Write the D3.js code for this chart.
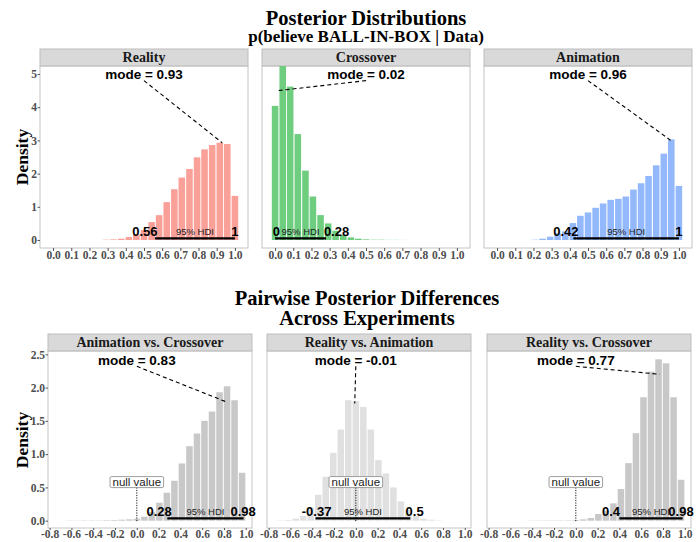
<!DOCTYPE html>
<html>
<head>
<meta charset="utf-8">
<script src="https://cdn.jsdelivr.net/npm/d3@7"></script>
<style>
body { margin: 0; background: #fff; }
</style>
</head>
<body>
<div id="chart"></div>
<script>
// ---- data ----

// bin centres, top row (bin width 1/24) and bottom row (bin width 0.069)
const topBins = [0, 0.042, 0.083, 0.125, 0.167, 0.208, 0.25, 0.292, 0.333, 0.375, 0.417, 0.458, 0.5,
    0.542, 0.583, 0.625, 0.667, 0.708, 0.75, 0.792, 0.833, 0.875, 0.917, 0.958, 1.0];
const bottomBins = [-0.69, -0.621, -0.552, -0.483, -0.414, -0.345, -0.276, -0.207, -0.138, -0.069, 0,
    0.069, 0.138, 0.207, 0.276, 0.345, 0.414, 0.483, 0.552, 0.621, 0.69, 0.759, 0.828, 0.897, 0.966, 1.035];

const topNames = ["Reality", "Crossover", "Animation"];
const realityDens = [0, 0, 0, 0, 0, 0, 0, 0.01, 0.02, 0.04, 0.09, 0.17, 0.30, 0.54, 0.75, 1.14, 1.53, 1.88,
    2.14, 2.49, 2.73, 2.86, 2.93, 2.89, 1.33];
const crossoverDens = [4.04, 5.8, 4.62, 3.19, 2.09, 1.31, 0.75, 0.50, 0.28, 0.15, 0.08, 0.04, 0.02, 0.01,
    0.01, 0.005, 0.005, 0.003, 0, 0, 0, 0, 0, 0, 0];
const animationDens = [0, 0, 0, 0, 0, 0.01, 0.04, 0.10, 0.20, 0.26, 0.51, 0.73, 0.83, 0.97, 1.10, 1.21, 1.24,
    1.31, 1.52, 1.71, 1.93, 2.25, 2.60, 3.03, 1.63];
const topModes = [0.93, 0.02, 0.96];
const topModeDens = [2.93, 4.5, 2.98];
const topHdiLow = [0.56, 0, 0.42];
const topHdiHigh = [1, 0.28, 1];

const bottomNames = ["Animation vs. Crossover", "Reality vs. Animation", "Reality vs. Crossover"];
const animCrossDens = [0, 0.003, 0.003, 0.005, 0.005, 0.005, 0.008, 0.01, 0.015, 0.02, 0.03, 0.06, 0.13,
    0.27, 0.42, 0.60, 0.86, 1.12, 1.31, 1.50, 1.64, 1.93, 2.02, 1.81, 0.72, 0];
const realAnimDens = [0.005, 0.01, 0.03, 0.07, 0.20, 0.39, 0.66, 1.02, 1.37, 1.81, 1.80, 1.71, 1.37, 0.91,
    0.71, 0.50, 0.29, 0.16, 0.07, 0.03, 0.015, 0.005, 0, 0, 0, 0];
const realCrossDens = [0, 0, 0, 0, 0.003, 0.004, 0.005, 0.005, 0.005, 0.006, 0.01, 0.02, 0.04, 0.10, 0.15,
    0.26, 0.475, 0.865, 1.315, 1.855, 2.24, 2.425, 2.365, 1.855, 0.615, 0];
const bottomModes = [0.83, -0.01, 0.77];
const bottomModeDens = [1.78, 1.76, 2.2];
const bottomHdiLow = [0.28, -0.37, 0.4];
const bottomHdiHigh = [0.98, 0.5, 0.98];

const topXTicks = [0, 0.1, 0.2, 0.3, 0.4, 0.5, 0.6, 0.7, 0.8, 0.9, 1.0];
const topYTicks = [0, 1, 2, 3, 4, 5];
const bottomXTicks = [-0.8, -0.6, -0.4, -0.2, 0, 0.2, 0.4, 0.6, 0.8, 1.0];
const bottomYTicks = [0, 0.5, 1, 1.5, 2, 2.5];

// ---- layout ----
const W = 697, H = 542;
const serif = "'Liberation Serif', 'Times New Roman', serif";
const sans = "'Liberation Sans', Arial, sans-serif";

const rows = [
    {
        names: topNames, dens: [realityDens, crossoverDens, animationDens], bins: topBins, bw: 1 / 24,
        colors: ["#f9a099", "#6fcd80", "#93b9fc"],
        modes: topModes, modeDens: topModeDens, hdiLow: topHdiLow, hdiHigh: topHdiHigh,
        lefts: [40, 262, 484], width: 208, stripTop: 49, top: 66, bottom: 248,
        xDomain: [-0.072, 1.072], yDomain: [-0.24, 5.24],
        xTicks: topXTicks, yTicks: topYTicks, yFormat: d => d.toFixed(0),
        modeText: [0.5, 5.0], modeStart: [0.5, 4.8],
        lowLabelX: [0.505, 0.007, 0.378], highLabelX: [1.0, 0.338, 1.0],
        hdiLift: 1.7, nullValue: false, ylabelY: 157
    },
    {
        names: bottomNames, dens: [animCrossDens, realAnimDens, realCrossDens], bins: bottomBins, bw: 0.069,
        colors: ["#c8c8c8", "#e0e0e0", "#c8c8c8"],
        modes: bottomModes, modeDens: bottomModeDens, hdiLow: bottomHdiLow, hdiHigh: bottomHdiHigh,
        lefts: [48, 267, 487], width: 204, stripTop: 334, top: 351, bottom: 528,
        xDomain: [-0.815, 1.057], yDomain: [-0.11, 2.55],
        xTicks: bottomXTicks, yTicks: bottomYTicks, yFormat: d => d.toFixed(1),
        modeText: [0, 2.41], modeStart: [0, 2.32],
        lowLabelX: [0.205, -0.36, 0.323], highLabelX: [0.975, 0.54, 0.965],
        hdiLift: 2.3, nullValue: true, ylabelY: 440
    }
];

const svg = d3.select("#chart").append("svg")
    .attr("width", W)
    .attr("height", H)
    .style("background", "#fff");

// titles
svg.append("text").attr("x", 366).attr("y", 25).attr("text-anchor", "middle")
    .style("font-family", serif).style("font-weight", "bold").style("font-size", "20.5px")
    .text("Posterior Distributions");
svg.append("text").attr("x", 366).attr("y", 42).attr("text-anchor", "middle")
    .style("font-family", serif).style("font-weight", "bold").style("font-size", "17px")
    .text("p(believe BALL-IN-BOX | Data)");
svg.append("text").attr("x", 367).attr("y", 305).attr("text-anchor", "middle")
    .style("font-family", serif).style("font-weight", "bold").style("font-size", "20.5px")
    .text("Pairwise Posterior Differences");
svg.append("text").attr("x", 367).attr("y", 325).attr("text-anchor", "middle")
    .style("font-family", serif).style("font-weight", "bold").style("font-size", "20.5px")
    .text("Across Experiments");

rows.forEach(function (row, r) {

    // y axis title
    svg.append("text")
        .attr("transform", "translate(28," + row.ylabelY + ") rotate(-90)")
        .attr("text-anchor", "middle")
        .style("font-family", serif).style("font-weight", "bold").style("font-size", "17.5px")
        .text("Density");

    row.names.forEach(function (name, i) {
        let left = row.lefts[i];
        let x = d3.scaleLinear().domain(row.xDomain).range([left, left + row.width]);
        let y = d3.scaleLinear().domain(row.yDomain).range([row.bottom, row.top]);
        let g = svg.append("g");

        // strip
        g.append("rect")
            .attr("x", left).attr("y", row.stripTop)
            .attr("width", row.width).attr("height", row.top - row.stripTop)
            .attr("fill", "#d9d9d9").attr("stroke", "#bdbdbd").attr("stroke-width", 1);
        g.append("text")
            .attr("x", left + row.width / 2).attr("y", row.top - 4.5)
            .attr("text-anchor", "middle")
            .style("font-family", serif).style("font-weight", "bold").style("font-size", "14px")
            .style("fill", "#1a1a1a")
            .text(name);

        // clip (bars only)
        let clipId = "clip" + r + "_" + i;
        svg.append("clipPath").attr("id", clipId)
            .append("rect")
            .attr("x", left).attr("y", row.top)
            .attr("width", row.width).attr("height", row.bottom - row.top);

        let body = g.append("g").attr("clip-path", "url(#" + clipId + ")");
        let notes = g.append("g");

        // histogram bars
        let bars = row.bins.map((c, k) => ({c: c, d: row.dens[i][k]})).filter(b => b.d > 0);
        body.selectAll("rect.bar")
            .data(bars)
            .enter().append("rect")
            .attr("class", "bar")
            .attr("x", b => x(b.c - row.bw / 2) + 0.5)
            .attr("width", b => x(b.c + row.bw / 2) - x(b.c - row.bw / 2) - 1)
            .attr("y", b => y(b.d))
            .attr("height", b => y(0) - y(b.d))
            .attr("fill", row.colors[i]);

        // null value marker
        if (row.nullValue) {
            notes.append("line")
                .attr("x1", x(0)).attr("x2", x(0))
                .attr("y1", y(0.5)).attr("y2", y(0) + 1.5)
                .attr("stroke", "#000").attr("stroke-width", 0.9)
                .attr("stroke-dasharray", "1.2,1.3");
            let box = notes.append("rect");
            let nt = notes.append("text")
                .attr("x", x(0)).attr("y", y(0.58) + 4)
                .attr("text-anchor", "middle")
                .style("font-family", sans).style("font-size", "11.5px").style("fill", "#222")
                .text("null value");
            let tw = nt.node().getComputedTextLength();
            box.attr("x", x(0) - tw / 2 - 2.5).attr("y", y(0.58) - 5.5)
                .attr("width", tw + 5).attr("height", 11)
                .attr("rx", 1.5)
                .attr("fill", "#fff").attr("stroke", "#777").attr("stroke-width", 0.7);
        }

        // mode annotation
        notes.append("line")
            .attr("x1", x(row.modeStart[0])).attr("y1", y(row.modeStart[1]))
            .attr("x2", x(row.modes[i])).attr("y2", y(row.modeDens[i]))
            .attr("stroke", "#000").attr("stroke-width", 1.1)
            .attr("stroke-dasharray", "4,3");
        notes.append("text")
            .attr("x", x(row.modeText[0])).attr("y", y(row.modeText[1]) + 5)
            .attr("text-anchor", "middle")
            .style("font-family", sans).style("font-weight", "bold").style("font-size", "13.5px")
            .text("mode = " + row.modes[i]);

        // HDI
        let hy = y(0) - row.hdiLift;
        notes.append("line")
            .attr("x1", x(row.hdiLow[i])).attr("x2", x(row.hdiHigh[i]))
            .attr("y1", hy).attr("y2", hy)
            .attr("stroke", "#000").attr("stroke-width", 2.2);
        notes.append("text")
            .attr("x", x((row.hdiLow[i] + row.hdiHigh[i]) / 2)).attr("y", hy - 3)
            .attr("text-anchor", "middle")
            .style("font-family", sans).style("font-size", "9.5px").style("fill", "#222")
            .text("95% HDI");
        notes.append("text")
            .attr("x", x(row.lowLabelX[i])).attr("y", hy - 2)
            .attr("text-anchor", "middle")
            .style("font-family", sans).style("font-weight", "bold").style("font-size", "13px")
            .text(String(row.hdiLow[i]));
        notes.append("text")
            .attr("x", x(row.highLabelX[i])).attr("y", hy - 2)
            .attr("text-anchor", "middle")
            .style("font-family", sans).style("font-weight", "bold").style("font-size", "13px")
            .text(String(row.hdiHigh[i]));

        // panel border
        g.insert("rect", "g")
            .attr("x", left).attr("y", row.top)
            .attr("width", row.width).attr("height", row.bottom - row.top)
            .attr("fill", "none").attr("stroke", "#c4c4c4").attr("stroke-width", 1);

        // x axis
        let xAxis = g.append("g")
            .attr("transform", "translate(0," + row.bottom + ")")
            .call(d3.axisBottom(x).tickValues(row.xTicks).tickSize(r === 0 ? 3 : 2).tickPadding(0)
                .tickFormat(d => d.toFixed(1)));
        xAxis.select(".domain").remove();
        xAxis.selectAll("line").attr("stroke", "#555");
        xAxis.selectAll("text")
            .style("font-family", serif).style("font-weight", "bold").style("font-size", "11.5px")
            .style("fill", "#4d4d4d");

        // y axis only on first panel of each row
        if (i === 0) {
            let yAxis = g.append("g")
                .attr("transform", "translate(" + left + ",0)")
                .call(d3.axisLeft(y).tickValues(row.yTicks).tickSize(2.5).tickPadding(0.5)
                    .tickFormat(row.yFormat));
            yAxis.select(".domain").remove();
            yAxis.selectAll("line").attr("stroke", "#555");
            yAxis.selectAll("text")
                .style("font-family", serif).style("font-weight", "bold").style("font-size", "11.5px")
                .style("fill", "#4d4d4d");
        }
    });
});
</script>
</body>
</html>
